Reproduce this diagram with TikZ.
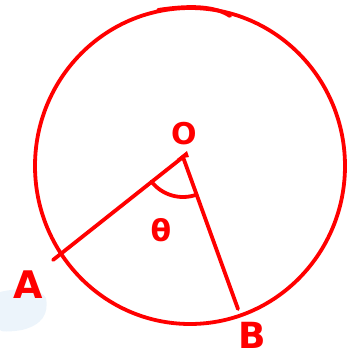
\documentclass[tikz,border=0pt]{standalone}
\usepackage{fontspec}
\setmainfont{DejaVu Sans}
\definecolor{smudge}{RGB}{236,244,251}
\begin{document}
\begin{tikzpicture}[x=1pt,y=-1pt,
  ink/.style={draw=red,line width=3.8pt,line cap=round,line join=round},
  lbl/.style={text=red,font=\fontsize{38}{38}\selectfont\bfseries,inner sep=0pt}]
\useasboundingbox (0,0) rectangle (350,360);
\fill[smudge] (0,292) .. controls (20,287) and (42,289) .. (46,298)
  .. controls (49,314) and (42,325) .. (22,330) .. controls (10,332) and (0,332) .. (0,330) -- cycle;
\draw[ink] (190,166) ellipse [x radius=155, y radius=158];
\draw[ink] (158,10) .. controls (190,5) and (215,6) .. (230,16);
\coordinate (O) at (183,157);
\coordinate (A) at (53,260);
\coordinate (B) at (238,309);
\draw[ink] (A) -- (O) -- (B);
\fill[red] (O) ++(-6,2) -- ++(10,-8) -- ++(2,6) -- cycle;
\draw[ink] (O) ++(142:40) arc[start angle=142,end angle=70,radius=40];
\node[lbl,font=\fontsize{30}{30}\selectfont\bfseries] (lO) at (184,134) {O};
\node[lbl] (lA) at (28,285) {A};
\node[lbl,font=\fontsize{36}{36}\selectfont\bfseries,anchor=base] (lB) at (252,348) {B};
\node[lbl,font=\fontsize{30}{30}\selectfont\bfseries] (lt) at (161,230) {θ};
\end{tikzpicture}
\end{document}
